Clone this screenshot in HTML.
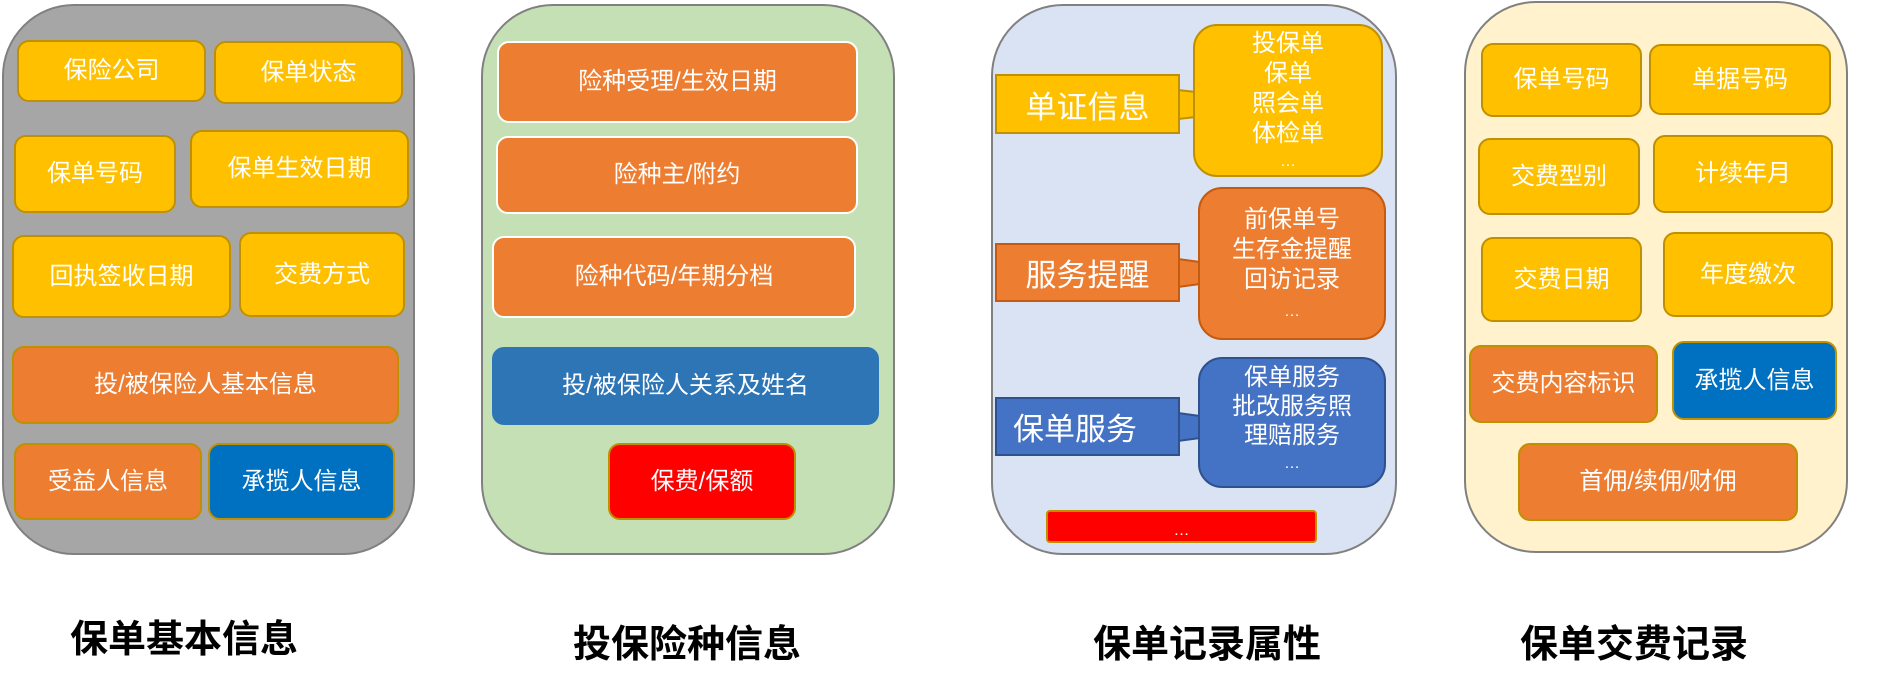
<!DOCTYPE html>
<html><head><meta charset="utf-8"><style>
html,body{margin:0;padding:0;background:#fff;}
body{width:1877px;height:682px;position:relative;overflow:hidden;font-family:"Liberation Sans","Noto Sans CJK SC",sans-serif;}
.p{position:absolute;border:2px solid #808080;border-radius:72px;box-sizing:border-box;}
.b{position:absolute;box-sizing:border-box;border-radius:12px;color:#fff;font-size:24px;display:flex;align-items:center;justify-content:center;text-align:center;line-height:30px;}
.y{background:#ffc000;border:2px solid #bf9000;}
.o{background:#ed7d31;border:2px solid #bf9000;}
.ow{background:#ed7d31;border:2px solid #fff;}
.bl{background:#0070c0;border:2px solid #bf9000;}
.t{position:absolute;font-size:38px;font-weight:bold;color:#000;transform:translateX(-50%);white-space:nowrap;}
.r{position:absolute;box-sizing:border-box;color:#fff;font-size:31px;display:flex;align-items:center;justify-content:center;}
</style></head><body>
<div class="p" style="left:2px;top:4px;width:413px;height:551px;background:#a6a6a6"></div>
<div class="p" style="left:481px;top:4px;width:414px;height:551px;background:#c5e0b4"></div>
<div class="p" style="left:991px;top:4px;width:406px;height:551px;background:#dae3f3"></div>
<div class="p" style="left:1464px;top:1px;width:384px;height:552px;background:#fff2cc"></div>

<div class="b y" style="left:17px;top:40px;width:189px;height:62px">保险公司</div>
<div class="b y" style="left:214px;top:41px;width:189px;height:63px">保单状态</div>
<div class="b y" style="left:14px;top:135px;width:162px;height:78px">保单号码</div>
<div class="b y" style="left:190px;top:130px;width:219px;height:78px">保单生效日期</div>
<div class="b y" style="left:12px;top:235px;width:219px;height:83px">回执签收日期</div>
<div class="b y" style="left:239px;top:232px;width:166px;height:85px">交费方式</div>
<div class="b o" style="left:12px;top:346px;width:387px;height:78px">投/被保险人基本信息</div>
<div class="b o" style="left:14px;top:443px;width:188px;height:77px">受益人信息</div>
<div class="b bl" style="left:208px;top:443px;width:187px;height:77px">承揽人信息</div>

<div class="b ow" style="left:497px;top:41px;width:361px;height:82px">险种受理/生效日期</div>
<div class="b ow" style="left:496px;top:136px;width:362px;height:78px">险种主/附约</div>
<div class="b ow" style="left:492px;top:236px;width:364px;height:82px">险种代码/年期分档</div>
<div class="b" style="left:492px;top:347px;width:387px;height:78px;background:#2e75b6;border:2px solid #2e75b6">投/被保险人关系及姓名</div>
<div class="b" style="left:608px;top:443px;width:188px;height:77px;background:#ff0000;border:2px solid #bf9000">保费/保额</div>

<svg style="position:absolute;left:0;top:0" width="1877" height="682">
<polygon points="1178,90 1196,92 1196,117 1178,119" fill="#ffc000" stroke="#bf9000" stroke-width="2"/>
<polygon points="1178,259 1200,262 1200,284 1178,287" fill="#ed7d31" stroke="#c55a11" stroke-width="2"/>
<polygon points="1178,413 1200,416 1200,438 1178,441" fill="#4472c4" stroke="#2f528f" stroke-width="2"/>
</svg>
<div class="r" style="left:995px;top:74px;width:185px;height:60px;background:#ffc000;border:2px solid #bf9000">单证信息</div>
<div class="r" style="left:995px;top:243px;width:185px;height:59px;background:#ed7d31;border:2px solid #c55a11">服务提醒</div>
<div class="r" style="left:995px;top:397px;width:185px;height:59px;background:#4472c4;border:2px solid #2f528f;justify-content:flex-start;padding-left:16px">保单服务</div>
<div class="b" style="left:1193px;top:24px;width:190px;height:153px;background:#ffc000;border:2px solid #bf9000;border-radius:24px;flex-direction:column;justify-content:flex-start;padding-top:3px">投保单<br>保单<br>照会单<br>体检单<br><span style="font-size:16px;line-height:26px">…</span></div>
<div class="b" style="left:1198px;top:187px;width:188px;height:153px;background:#ed7d31;border:2px solid #c55a11;border-radius:24px;flex-direction:column;justify-content:flex-start;padding-top:16px">前保单号<br>生存金提醒<br>回访记录<br><span style="font-size:16px;line-height:34px">…</span></div>
<div class="b" style="left:1198px;top:357px;width:188px;height:131px;background:#4472c4;border:2px solid #2f528f;border-radius:24px;flex-direction:column;justify-content:flex-start;padding-top:4px;line-height:29px">保单服务<br>批改服务照<br>理赔服务<br><span style="font-size:16px;line-height:28px">…</span></div>
<div class="b" style="left:1046px;top:510px;width:271px;height:33px;background:#ff0000;border:2px solid #bf9000;border-radius:4px;align-items:flex-end;font-size:16px;line-height:20px">…</div>

<div class="b y" style="left:1481px;top:43px;width:161px;height:74px">保单号码</div>
<div class="b y" style="left:1649px;top:44px;width:182px;height:71px">单据号码</div>
<div class="b y" style="left:1478px;top:138px;width:162px;height:77px">交费型别</div>
<div class="b y" style="left:1653px;top:135px;width:180px;height:78px">计续年月</div>
<div class="b y" style="left:1481px;top:237px;width:161px;height:85px">交费日期</div>
<div class="b y" style="left:1663px;top:232px;width:170px;height:85px">年度缴次</div>
<div class="b o" style="left:1469px;top:345px;width:189px;height:78px">交费内容标识</div>
<div class="b bl" style="left:1672px;top:341px;width:165px;height:79px">承揽人信息</div>
<div class="b o" style="left:1518px;top:443px;width:280px;height:78px">首佣/续佣/财佣</div>

<div class="t" style="left:184px;top:608px">保单基本信息</div>
<div class="t" style="left:687px;top:613px">投保险种信息</div>
<div class="t" style="left:1207px;top:613px">保单记录属性</div>
<div class="t" style="left:1634px;top:613px">保单交费记录</div>
</body></html>
